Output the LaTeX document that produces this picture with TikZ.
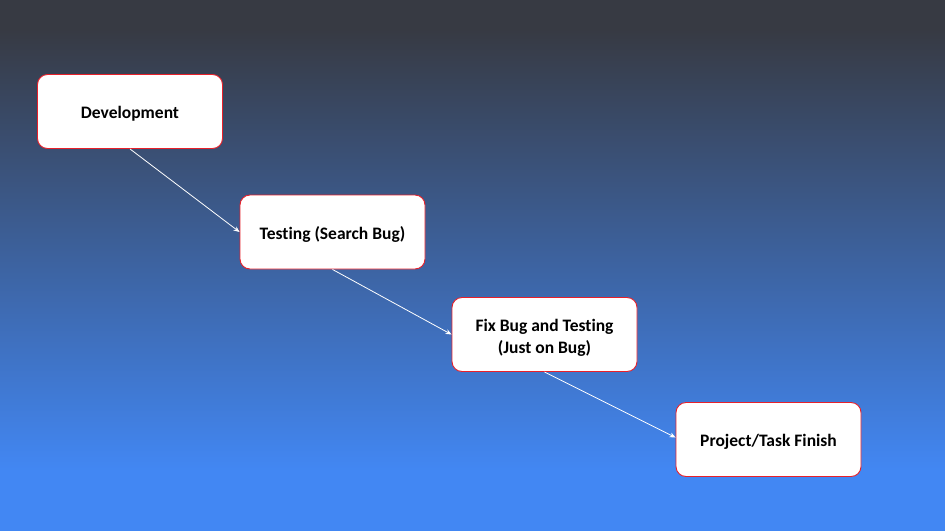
\documentclass[tikz,border=0pt]{standalone}
\usepackage{fontspec}
\setmainfont[Ligatures=NoCommon]{Carlito}
\usetikzlibrary{arrows.meta}
\definecolor{bgtop}{HTML}{373A43}
\definecolor{bgbot}{HTML}{4287F3}
\definecolor{boxred}{HTML}{E8202A}
\tikzset{
  stepbox/.style={draw=boxred, line width=0.9pt, fill=white, rounded corners=10pt,
    minimum width=185pt, minimum height=74pt, align=center,
    font=\fontsize{17.5}{21.5}\selectfont\bfseries, inner sep=2pt,
    execute at begin node={\rule{0pt}{17pt}}},
  twoline/.style={execute at begin node={\rule{0pt}{40pt}}},
  flow/.style={draw=white, line width=0.8pt, -{Stealth[length=6pt,width=5pt]}}
}
\begin{document}
\begin{tikzpicture}[x=1pt,y=-1pt]
\useasboundingbox (0,0) rectangle (945,531);
\fill[bgtop] (0,0) rectangle (945,30);
\fill[bgbot] (0,470) rectangle (945,531);
\shade[top color=bgtop, bottom color=bgbot] (0,29.5) rectangle (945,470.5);
\node[stepbox] (dev) at (130,111.5) {Development};
\node[stepbox] (test) at (332.5,232) {Testing (Search Bug)};
\node[stepbox, twoline] (fix) at (544.5,334.5) {Fix Bug and Testing\\(Just on Bug)};
\node[stepbox] (fin) at (768.5,439.5) {Project/Task Finish};
\draw[flow] (dev.south) -- (test.west);
\draw[flow] (test.south) -- (fix.west);
\draw[flow] (fix.south) -- ([yshift=2pt]fin.west);
\end{tikzpicture}
\end{document}
